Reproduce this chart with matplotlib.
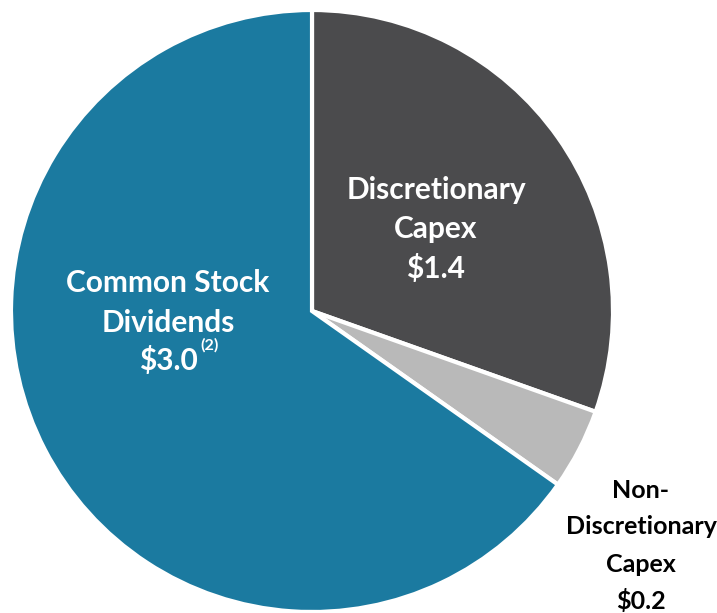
import matplotlib.pyplot as plt

labels = ["Discretionary\nCapex", "Non-\nDiscretionary\nCapex", "Common Stock\nDividends"]
values = [1.4, 0.2, 3.0]
value_labels = ["$1.4", "$0.2", "$3.0"]
colors = ["#4b4b4d", "#b9b9b9", "#1b7aa0"]

plt.rcParams['font.family'] = ['Lato', 'DejaVu Sans']

fig = plt.figure(figsize=(7.17, 6.13), dpi=100)
ax = fig.add_axes([0, 0, 1, 1])
ax.set_xlim(0, 717)
ax.set_ylim(613, 0)
ax.set_aspect('equal')
ax.axis('off')

# pie drawn in pixel coordinates (y flipped), clockwise from the top
ax.pie(values, colors=colors, startangle=-90, counterclock=True,
       center=(312, 311), radius=301,
       wedgeprops=dict(edgecolor='white', linewidth=3))
ax.set_xlim(0, 717)
ax.set_ylim(613, 0)


def block(x, y, lines, color, fs, step):
    for i, line in enumerate(lines):
        ax.text(x, y + i * step, line, ha='center', va='center',
                fontsize=fs, fontweight='bold', color=color)

block(436, 190, labels[0].split("\n") + [value_labels[0]], 'white', 21.5, 39)
block(641, 490, labels[1].split("\n") + [value_labels[1]], 'black', 18, 37)
block(168, 283, labels[2].split("\n"), 'white', 21.5, 40)
ax.text(168, 360, value_labels[2], ha='center', va='center',
        fontsize=21.5, fontweight='bold', color='white')
ax.text(200, 345, "(2)", ha='left', va='center',
        fontsize=11.5, fontweight='bold', color='white')

fig.savefig("out.png", dpi=100)
